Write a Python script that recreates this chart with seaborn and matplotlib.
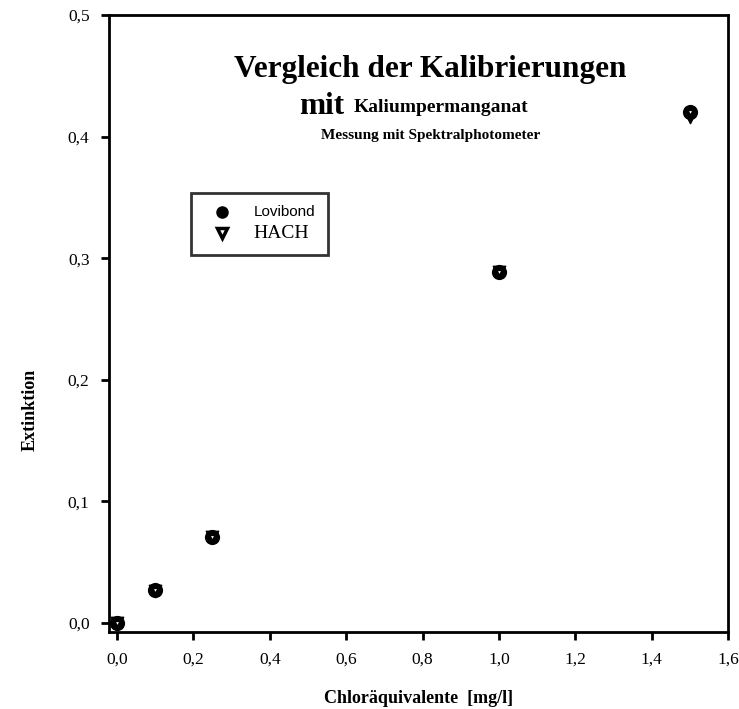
import numpy as np
import pandas as pd
import matplotlib
matplotlib.use("Agg")
import matplotlib.pyplot as plt
import seaborn as sns
from matplotlib.lines import Line2D

# Messwerte
konz = [0.0, 0.1, 0.25, 1.0, 1.5]
lovibond = [0.0, 0.027, 0.071, 0.289, 0.420]
hach = [0.0, 0.026, 0.071, 0.289, 0.416]
xticks = [0.0, 0.2, 0.4, 0.6, 0.8, 1.0, 1.2, 1.4, 1.6]
yticks = [0.0, 0.1, 0.2, 0.3, 0.4, 0.5]

df = pd.DataFrame({
    "konz": konz * 2,
    "ext": lovibond + hach,
    "geraet": ["Lovibond"] * len(konz) + ["HACH"] * len(konz),
})

sns.set_style("white")
plt.rcParams["font.family"] = ["Liberation Serif", "DejaVu Serif"]
plt.rcParams["text.color"] = "black"
plt.rcParams["xtick.color"] = "black"
plt.rcParams["ytick.color"] = "black"
plt.rcParams["axes.labelcolor"] = "black"

fig = plt.figure(figsize=(7.39, 7.09), dpi=100)
ax = fig.add_axes([109 / 739, 1 - 632 / 709, (728 - 109) / 739, (632 - 15) / 709])

sns.scatterplot(data=df[df.geraet == "Lovibond"], x="konz", y="ext", ax=ax,
                marker="o", s=120, color="black", edgecolor="black", linewidth=0, legend=False, zorder=3)
sns.scatterplot(data=df[df.geraet == "HACH"], x="konz", y="ext", ax=ax,
                marker="v", s=80, color="black", edgecolor="black", linewidth=1, legend=False, zorder=4)
# kleiner weisser Punkt in der Mitte
ax.scatter(konz, lovibond, marker="v", s=4, color="white", linewidth=0, zorder=5)

ax.set_xlim(-0.021, 1.6)
ax.set_ylim(-0.0074, 0.5)
ax.set_xticks(xticks)
ax.set_yticks(yticks)
ax.set_xticklabels([f"{v:.1f}".replace(".", ",") for v in xticks], fontsize=12.5)
ax.set_yticklabels([f"{v:.1f}".replace(".", ",") for v in yticks], fontsize=12.5)
ax.tick_params(axis="both", direction="out", length=6, width=2, color="black", bottom=True, left=True, pad=8)
for sp in ax.spines.values():
    sp.set_linewidth(2)
    sp.set_color("black")

ax.set_xlabel("Chloräquivalente  [mg/l]", fontsize=13, fontweight="bold", labelpad=16)
ax.set_ylabel("")
fig.text(30 / 739, 1 - 410 / 709, "Extinktion", rotation=90, ha="center", va="center",
         fontsize=13, fontweight="bold")

# Titel im Diagramm
fig.text(430 / 739, 1 - 70 / 709, "Vergleich der Kalibrierungen", ha="center", va="center",
         fontsize=22.5, fontweight="bold")
fig.text(322 / 739, 1 - 106 / 709, "mit", ha="center", va="center", fontsize=22.5, fontweight="bold")
fig.text(354 / 739, 1 - 108 / 709, "Kaliumpermanganat", ha="left", va="center", fontsize=14, fontweight="bold")
fig.text(431 / 739, 1 - 136 / 709, "Messung mit Spektralphotometer", ha="center", va="center",
         fontsize=11, fontweight="bold")

# Legende
handles = [
    Line2D([], [], marker="o", color="black", linestyle="none", markersize=8),
    Line2D([], [], marker="v", color="black", markerfacecolor="white", markeredgewidth=2.5,
           linestyle="none", markersize=7),
]
leg = ax.legend(handles, ["Lovibond", "HACH"], loc="upper left",
                bbox_to_anchor=((191 - 109) / 619, 1 - (193 - 15) / 617),
                frameon=True, fancybox=False, edgecolor="black", borderpad=0.9,
                handlelength=2.6, handletextpad=1.0, labelspacing=0.4, borderaxespad=0)
leg.get_frame().set_linewidth(2)
leg.get_texts()[0].set_fontfamily(["Liberation Sans"])
leg.get_texts()[0].set_fontsize(11)
leg.get_texts()[1].set_fontsize(14)

fig.savefig("out.png", dpi=100)
